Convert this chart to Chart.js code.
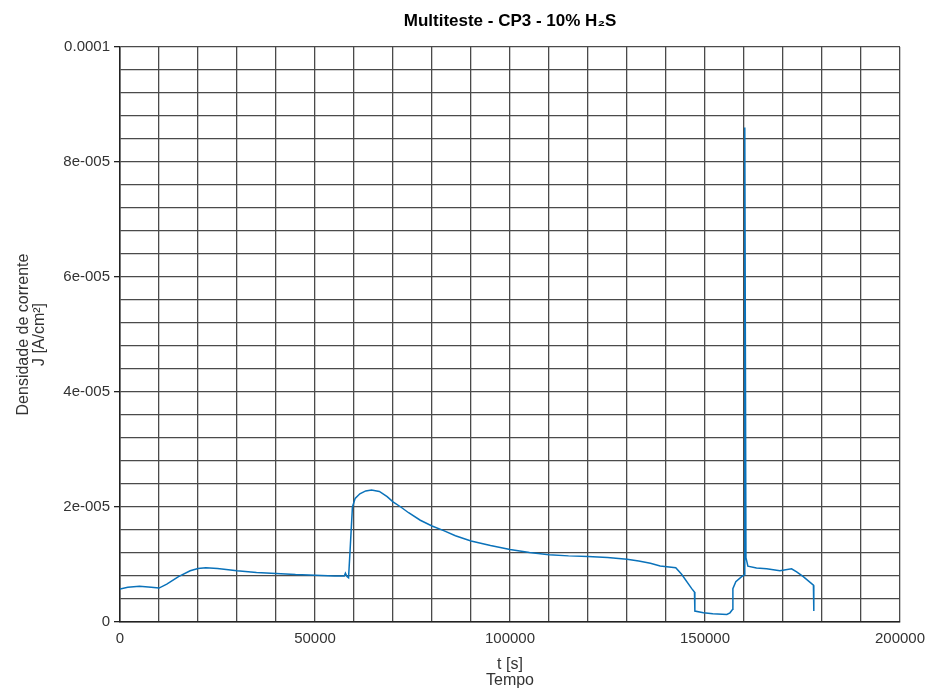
<!DOCTYPE html>
<html>
<head>
<meta charset="utf-8">
<script src="https://cdn.jsdelivr.net/npm/chart.js@4.4.1/dist/chart.umd.min.js"></script>
<style>
  html, body { margin: 0; padding: 0; background: #ffffff; }
  #wrap { width: 931px; height: 693px; position: relative; }
</style>
</head>
<body>
<div id="wrap"><canvas id="c" width="931" height="693"></canvas></div>
<script>
// ---- Data ----
const tValues = [
  0, 2000, 5000, 8000, 10000, 12000, 15000, 18000, 20000, 22000,
  25000, 30000, 35000, 40000, 45000, 50000, 55000, 57500, 57800, 58200,
  58600, 59000, 59600, 60300, 61500, 63000, 64500, 66500, 68500, 70000,
  72000, 74000, 77000, 80000, 83000, 86000, 90000, 95000, 100000, 105000,
  110000, 115000, 120000, 125000, 130000, 133000, 136000, 138500, 142500, 144000,
  146600, 147300, 147400, 149600, 152000, 155600, 156400, 157100, 157150, 157900,
  159400, 160100, 160200, 160500, 161000, 163200, 165800, 169200, 172200, 173500,
  175200, 177800, 177900
];
const jValues = [
  5.75e-6, 6.05e-6, 6.2e-6, 6.05e-6, 5.9e-6, 6.6e-6, 7.9e-6, 8.9e-6, 9.3e-6, 9.45e-6,
  9.3e-6, 8.9e-6, 8.6e-6, 8.45e-6, 8.25e-6, 8.15e-6, 8.0e-6, 8.0e-6, 8.5e-6, 7.9e-6,
  7.7e-6, 12.5e-6, 20.0e-6, 21.5e-6, 22.3e-6, 22.8e-6, 22.95e-6, 22.7e-6, 21.8e-6, 20.9e-6,
  20.0e-6, 19.0e-6, 17.7e-6, 16.7e-6, 15.9e-6, 15.0e-6, 14.1e-6, 13.3e-6, 12.6e-6, 12.1e-6,
  11.7e-6, 11.5e-6, 11.4e-6, 11.2e-6, 10.9e-6, 10.6e-6, 10.2e-6, 9.75e-6, 9.45e-6, 8.3e-6,
  5.8e-6, 5.2e-6, 1.9e-6, 1.6e-6, 1.45e-6, 1.32e-6, 1.6e-6, 2.2e-6, 5.8e-6, 7.0e-6,
  7.9e-6, 8.2e-6, 86.0e-6, 11.2e-6, 9.7e-6, 9.4e-6, 9.25e-6, 8.9e-6, 9.25e-6, 8.7e-6,
  7.9e-6, 6.4e-6, 1.9e-6
];
const xTickLabels = ["0", "50000", "100000", "150000", "200000"];
const yTickLabels = ["0", "2e-005", "4e-005", "6e-005", "8e-005", "0.0001"];
const xMax = 200000;
const yMax = 0.0001;
const xGridCount = 20;   // grid divisions along x
const yGridCount = 25;   // grid divisions along y
const xLabelEvery = 5;
const yLabelEvery = 5;

const points = tValues.map((t, i) => ({ x: t, y: jValues[i] }));

const FONT = "'Liberation Sans', Arial, Helvetica, sans-serif";
const TEXT = '#333333';
const GRID = '#4a4a4a';

new Chart(document.getElementById('c'), {
  type: 'scatter',
  data: {
    datasets: [{
      data: points,
      showLine: true,
      borderColor: '#0a72ba',
      borderWidth: 1.5,
      pointRadius: 0,
      fill: false,
      tension: 0
    }]
  },
  options: {
    responsive: false,
    animation: false,
    devicePixelRatio: 1,
    layout: { padding: { left: 0, right: 31, top: 0, bottom: 0 } },
    plugins: {
      legend: { display: false },
      tooltip: { enabled: false },
      title: {
        display: true,
        fullSize: false,
        text: 'Multiteste - CP3 - 10% H\u2082S',
        color: '#000000',
        font: { family: FONT, size: 17, weight: 'bold', lineHeight: 1.2 },
        padding: { top: 11, bottom: 15.6 }
      }
    },
    scales: {
      x: {
        type: 'linear',
        min: 0,
        max: xMax,
        afterBuildTicks: (scale) => {
          const arr = [];
          for (let i = 0; i <= xGridCount; i++) arr.push({ value: i * xMax / xGridCount });
          scale.ticks = arr;
        },
        afterFit: (scale) => {
          scale.height = 71;
          scale.paddingLeft = 0;
          scale.paddingRight = 0;
        },
        ticks: {
          autoSkip: false,
          maxRotation: 0,
          minRotation: 0,
          padding: 8,
          color: TEXT,
          font: { family: FONT, size: 15 },
          callback: (v, i) => (i % xLabelEvery === 0 ? xTickLabels[i / xLabelEvery] : '')
        },
        grid: { color: GRID, lineWidth: 1.3, drawTicks: false },
        border: { display: true, color: '#222222', width: 1.5 },
        title: {
          display: true,
          text: ['t [s]', 'Tempo'],
          color: TEXT,
          font: { family: FONT, size: 16, lineHeight: 1 },
          padding: { top: 0, bottom: 4 }
        }
      },
      y: {
        type: 'linear',
        min: 0,
        max: yMax,
        afterBuildTicks: (scale) => {
          const arr = [];
          for (let i = 0; i <= yGridCount; i++) arr.push({ value: (i * 4) / 1000000 });
          scale.ticks = arr;
        },
        afterFit: (scale) => {
          scale.width = 120;
          scale.paddingTop = 0;
          scale.paddingBottom = 0;
        },
        ticks: {
          autoSkip: false,
          padding: 4,
          color: TEXT,
          font: { family: FONT, size: 15 },
          callback: (v, i) => (i % yLabelEvery === 0 ? yTickLabels[i / yLabelEvery] : '')
        },
        grid: {
          color: GRID,
          lineWidth: 1.3,
          drawTicks: true,
          tickLength: 6,
          tickColor: (ctx) => (ctx.index % yLabelEvery === 0 ? '#222222' : 'rgba(0,0,0,0)')
        },
        border: { display: true, color: '#222222', width: 1.5 },
        title: {
          display: true,
          text: ['Densidade de corrente', 'J [A/cm\u00B2]'],
          color: TEXT,
          font: { family: FONT, size: 16, lineHeight: 1 },
          padding: { top: 16, bottom: 0 }
        }
      }
    }
  }
});
</script>
</body>
</html>
